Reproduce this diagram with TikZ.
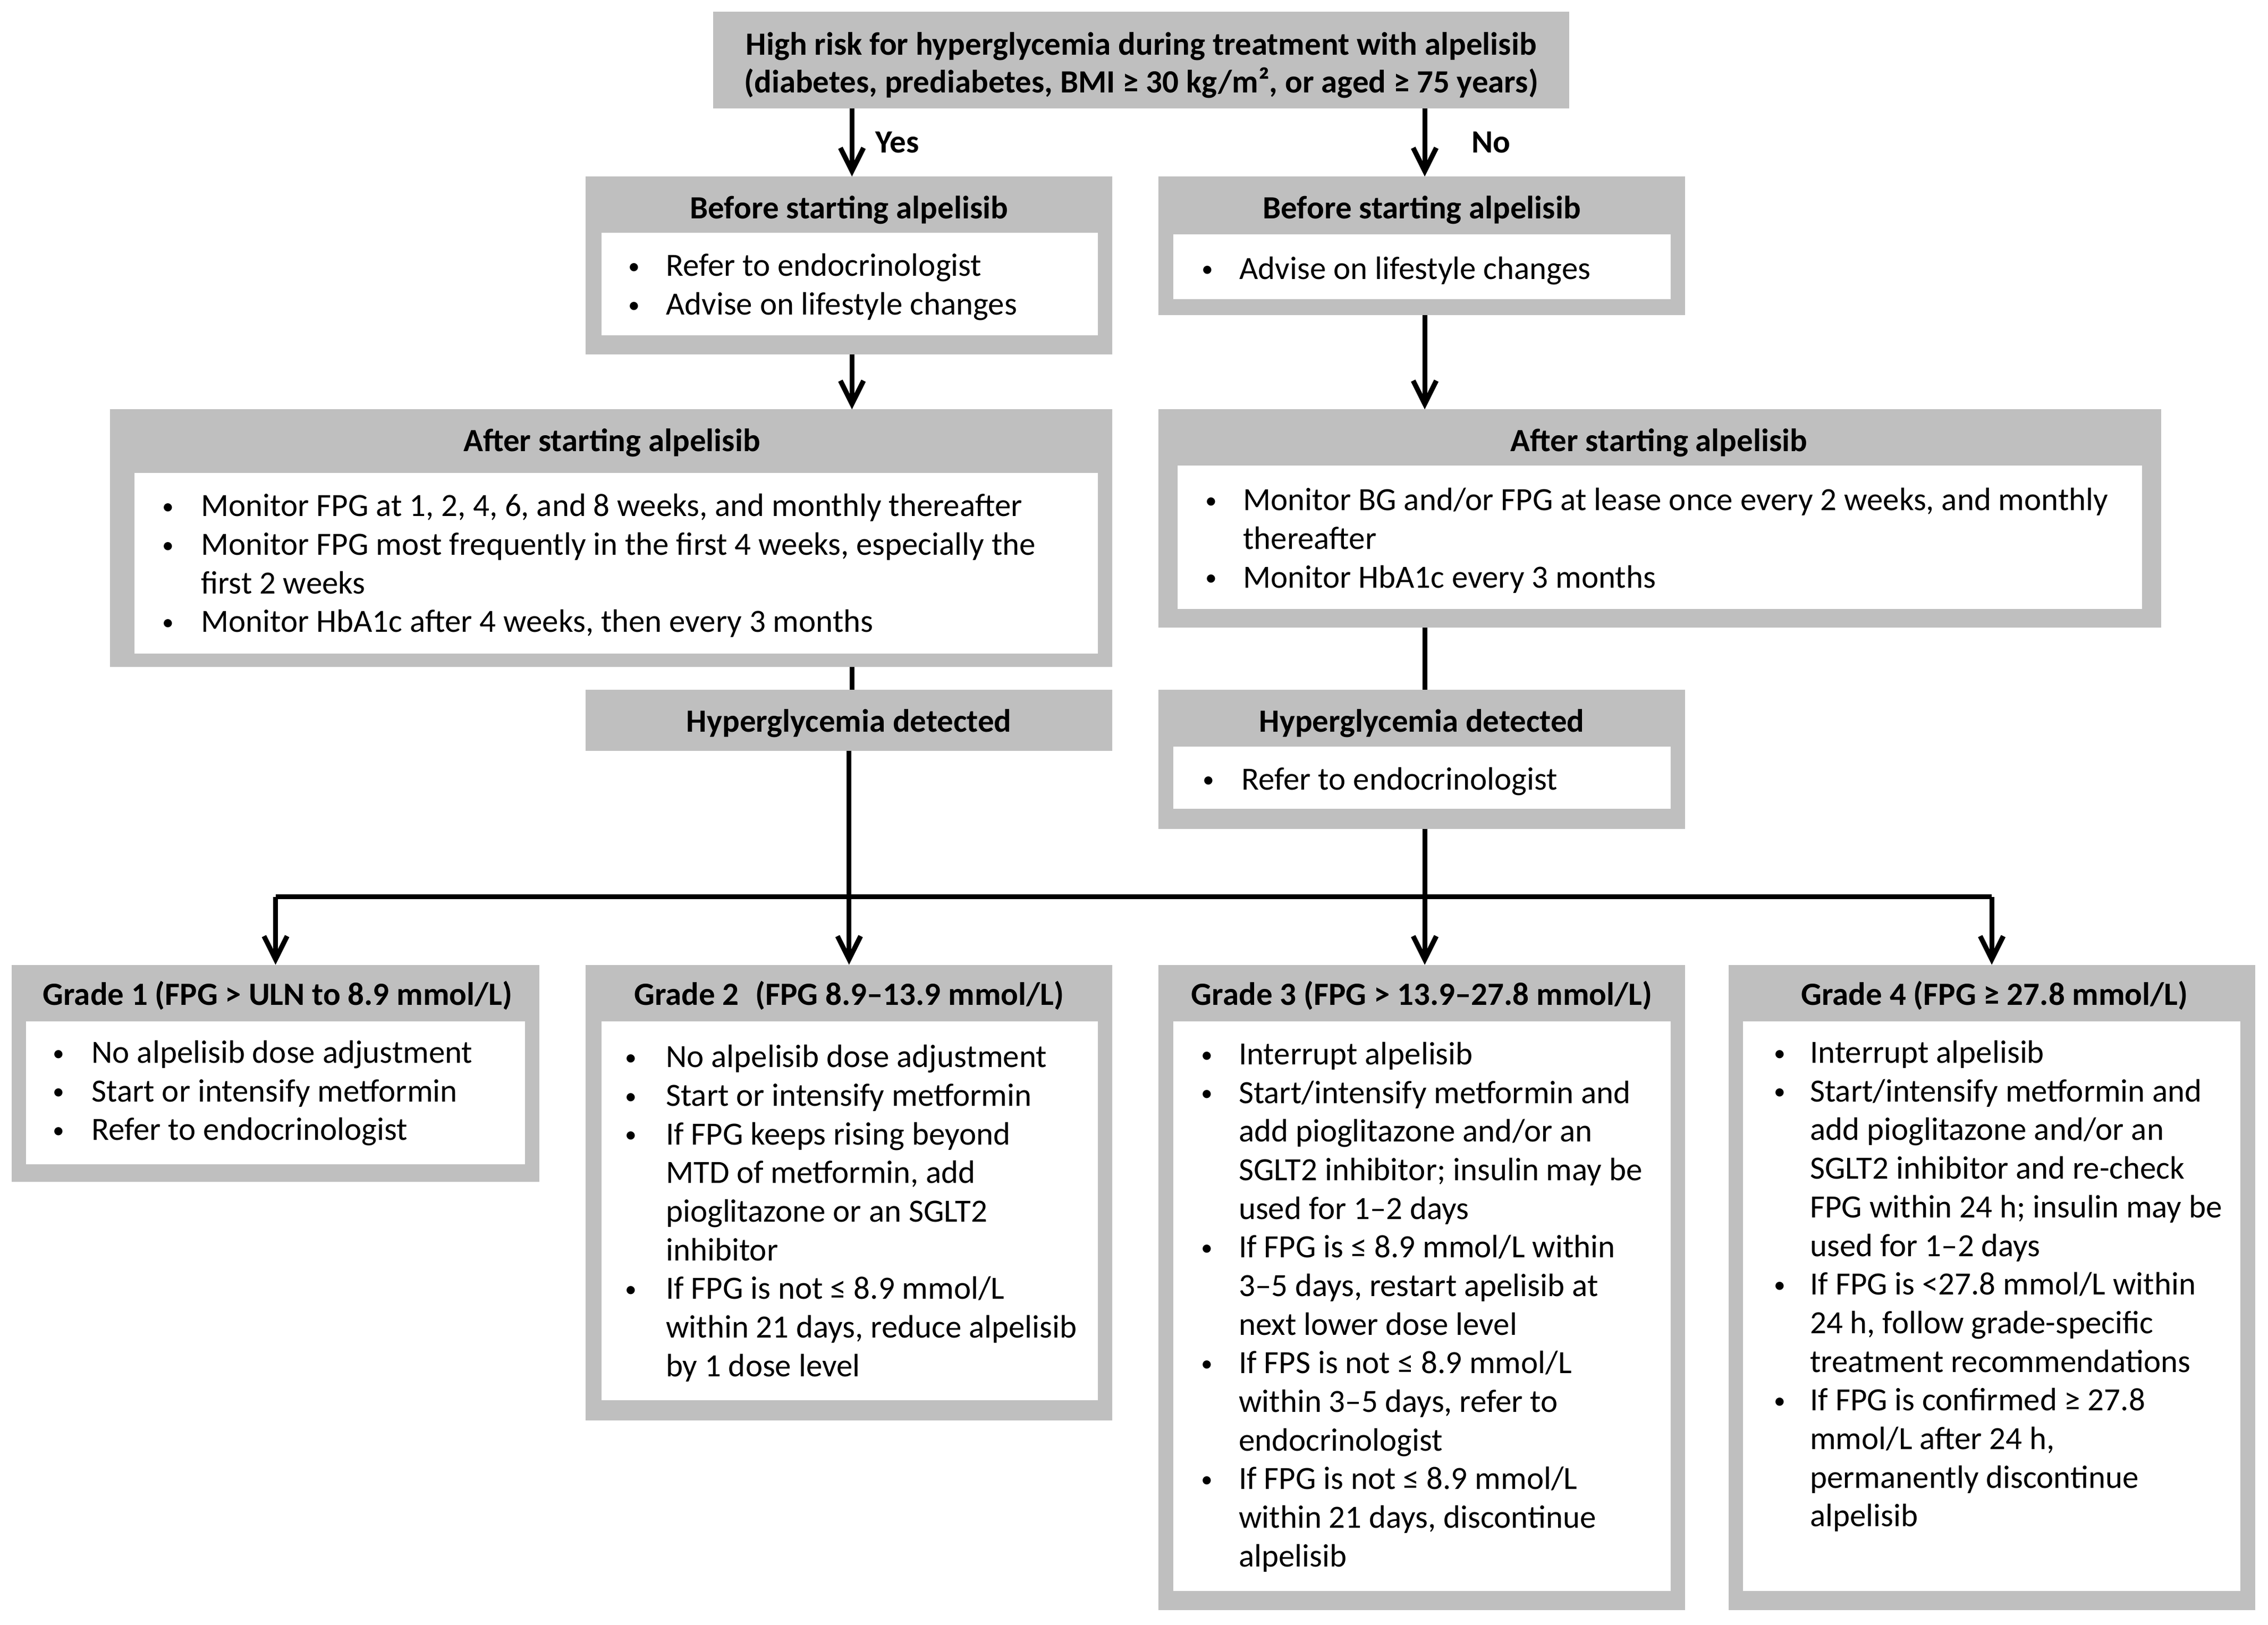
\documentclass[tikz,border=0pt]{standalone}
\usepackage{fontspec}
\setmainfont{Carlito}
\usetikzlibrary{arrows.meta,calc}
\definecolor{boxgray}{HTML}{BFBFBF}
\tikzset{
  graybox/.style={fill=boxgray, draw=none, anchor=north west, inner sep=0pt, outer sep=0pt},
  whitebox/.style={fill=white, draw=none, anchor=north west, inner sep=0pt, outer sep=0pt},
  titletext/.style={font=\bfseries\fontsize{11.2}{13}\selectfont, inner sep=0pt, anchor=base},
  listtext/.style={font=\fontsize{11.2}{13.35}\selectfont, inner sep=0pt, anchor=base west},
  conn/.style={line width=1.7pt, draw=black},
  arr/.style={conn, -{Straight Barb[length=8pt,width=8pt]}}
}
\newcommand\gbox[5]{\node[graybox, minimum width={(#4-#2)*0.5pt}, minimum height={(#5-#3)*0.5pt}] (#1) at (#2,#3) {};}
\newcommand\wbox[5]{\node[whitebox, minimum width={(#4-#2)*0.5pt}, minimum height={(#5-#3)*0.5pt}] (#1) at (#2,#3) {};}
\newcommand\blist[5]{\node[listtext] (#1) at (#2,#3) {\begin{tabular}[t]{@{}p{#4}@{}l@{}}#5\end{tabular}};}
\newcommand\bul{\raisebox{0.15ex}{\fontsize{8}{8}\selectfont\textbullet}}
\begin{document}
\begin{tikzpicture}[x=0.5pt,y=-0.5pt]
\useasboundingbox (0,0) rectangle (1568,1123.4);
% boxes
\gbox{top}{493}{8}{1085}{75}
\gbox{byes}{405}{122}{769}{245}
\wbox{byesw}{416}{161}{759}{232}
\gbox{bno}{801}{122}{1165}{218}
\wbox{bnow}{811}{162}{1155}{207}
\gbox{ayes}{76}{283}{769}{461}
\wbox{ayesw}{93}{327}{759}{452}
\gbox{ano}{801}{283}{1494}{434}
\wbox{anow}{814}{322}{1481}{421}
\gbox{hyes}{405}{477}{769}{519}
\gbox{hno}{801}{477}{1165}{573}
\wbox{hnow}{811}{516}{1155}{559}
\gbox{g1}{8}{667}{373}{817}
\wbox{g1w}{18}{706}{363}{805}
\gbox{g2}{405}{667}{769}{982}
\wbox{g2w}{416}{706}{759}{968}
\gbox{g3}{801}{667}{1165}{1113}
\wbox{g3w}{811}{706}{1155}{1100}
\gbox{g4}{1195}{667}{1559}{1113}
\wbox{g4w}{1205}{706}{1549}{1100}
% titles
\node[titletext, anchor=center, align=center] (topt) at (789,45) {High risk for hyperglycemia during treatment with alpelisib\\(diabetes, prediabetes, BMI ≥ 30 kg/m², or aged ≥ 75 years)};
\node[titletext] (byest) at (587,151) {Before starting alpelisib};
\node[titletext] (bnot) at (983,151) {Before starting alpelisib};
\node[titletext] (ayest) at (423,312) {After starting alpelisib};
\node[titletext] (anot) at (1147,312) {After starting alpelisib};
\node[titletext] (hyest) at (587,506) {Hyperglycemia detected};
\node[titletext] (hnot) at (983,506) {Hyperglycemia detected};
\node[titletext] (g1t) at (192,695) {Grade 1 (FPG > ULN to 8.9 mmol/L)};
\node[titletext] (g2t) at (587,695) {Grade 2\enspace(FPG 8.9–13.9 mmol/L)};
\node[titletext] (g3t) at (983,695) {Grade 3 (FPG > 13.9–27.8 mmol/L)};
\node[titletext] (g4t) at (1379,695) {Grade 4 (FPG ≥ 27.8 mmol/L)};
% lists
\blist{byesl}{434}{191}{13pt}{\bul & Refer to endocrinologist\\ \bul & Advise on lifestyle changes}
\blist{bnol}{830.5}{193}{13pt}{\bul & Advise on lifestyle changes}
\blist{ayesl}{112}{357}{13.3pt}{\bul & Monitor FPG at 1, 2, 4, 6, and 8 weeks, and monthly thereafter\\ \bul & Monitor FPG most frequently in the first 4 weeks, especially the\\ & first 2 weeks\\ \bul & Monitor HbA1c after 4 weeks, then every 3 months}
\blist{anol}{833}{353}{13pt}{\bul & Monitor BG and/or FPG at lease once every 2 weeks, and monthly\\ & thereafter\\ \bul & Monitor HbA1c every 3 months}
\blist{hnol}{831}{546}{13.5pt}{\bul & Refer to endocrinologist}
\blist{g1l}{36}{735}{13.5pt}{\bul & No alpelisib dose adjustment\\ \bul & Start or intensify metformin\\ \bul & Refer to endocrinologist}
\blist{g2l}{432}{738}{14pt}{\bul & No alpelisib dose adjustment\\ \bul & Start or intensify metformin\\ \bul & If FPG keeps rising beyond\\ & MTD of metformin, add\\ & pioglitazone or an SGLT2\\ & inhibitor\\ \bul & If FPG is not ≤ 8.9 mmol/L\\ & within 21 days, reduce alpelisib\\ & by 1 dose level}
\blist{g3l}{830}{736}{13pt}{\bul & Interrupt alpelisib\\ \bul & Start/intensify metformin and\\ & add pioglitazone and/or an\\ & SGLT2 inhibitor; insulin may be\\ & used for 1–2 days\\ \bul & If FPG is ≤ 8.9 mmol/L within\\ & 3–5 days, restart apelisib at\\ & next lower dose level\\ \bul & If FPS is not ≤ 8.9 mmol/L\\ & within 3–5 days, refer to\\ & endocrinologist\\ \bul & If FPG is not ≤ 8.9 mmol/L\\ & within 21 days, discontinue\\ & alpelisib}
\blist{g4l}{1226}{735}{12.5pt}{\bul & Interrupt alpelisib\\ \bul & Start/intensify metformin and\\ & add pioglitazone and/or an\\ & SGLT2 inhibitor and re-check\\ & FPG within 24 h; insulin may be\\ & used for 1–2 days\\ \bul & If FPG is <27.8 mmol/L within\\ & 24 h, follow grade-specific\\ & treatment recommendations\\ \bul & If FPG is confirmed ≥ 27.8\\ & mmol/L after 24 h,\\ & permanently discontinue\\ & alpelisib}
% connectors
\coordinate (jn) at (0,620);
\draw[arr] (top.south -| 589,0) -- (byes.north -| 589,0) node[pos=0.5, right=4pt, font=\bfseries\fontsize{11.2}{13}\selectfont] (yeslab) {Yes};
\draw[arr] (top.south -| 985,0) -- (bno.north -| 985,0) node[pos=0.5, right=12pt, font=\bfseries\fontsize{11.2}{13}\selectfont] (nolab) {No};
\draw[arr] (byes.south -| 589,0) -- (ayes.north -| 589,0);
\draw[arr] (bno.south -| 985,0) -- (ano.north -| 985,0);
\draw[conn] (ayes.south -| 589,0) -- (hyes.north -| 589,0);
\draw[conn] (ano.south -| 985,0) -- (hno.north -| 985,0);
\draw[arr] (hyes.south) -- (g2.north);
\draw[arr] (hno.south -| 985,0) -- (g3.north -| 985,0);
\draw[conn] (jn -| g1.north) -- (jn -| g4.north);
\draw[arr] (jn -| g1.north) -- (g1.north);
\draw[arr] (jn -| g4.north) -- (g4.north);
\end{tikzpicture}
\end{document}
